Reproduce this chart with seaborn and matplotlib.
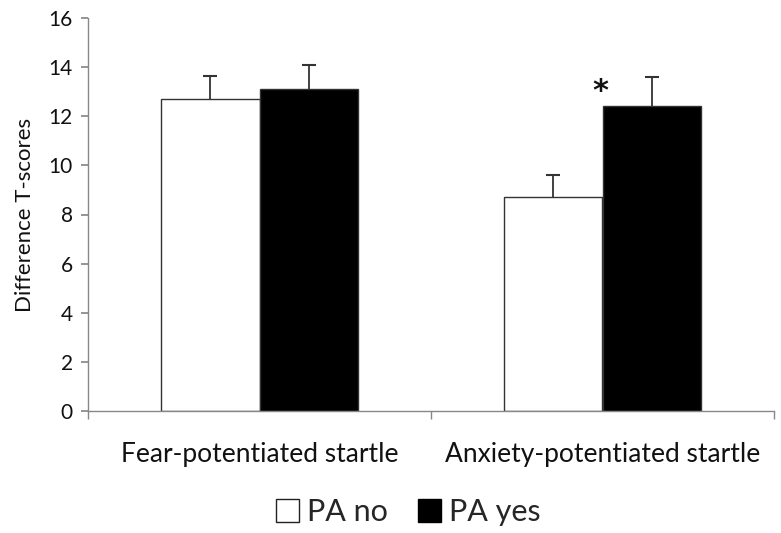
import matplotlib
matplotlib.use("Agg")
import matplotlib.pyplot as plt
import seaborn as sns
import pandas as pd
import numpy as np
from matplotlib.patches import Patch

categories = ["Fear-potentiated startle", "Anxiety-potentiated startle"]
groups = ["PA no", "PA yes"]
pa_no = [12.7, 8.7]
pa_yes = [13.1, 12.4]
err_no = [0.92, 0.9]
err_yes = [1.0, 1.2]

df = pd.DataFrame({
    "cat": categories * 2,
    "group": [groups[0]] * 2 + [groups[1]] * 2,
    "value": pa_no + pa_yes,
})

sns.set_theme(style="white")
plt.rcParams['font.family'] = ['Lato', 'DejaVu Sans']

fig = plt.figure(figsize=(7.81, 5.33), dpi=100)
ax = fig.add_axes([88/781, 1-411/533, (774-88)/781, (411-18)/533])

sns.barplot(data=df, x="cat", y="value", hue="group", order=categories,
            hue_order=groups, palette=["white", "black"], width=0.572,
            edgecolor="#333333", linewidth=1.0, errorbar=None, legend=False,
            gap=0, ax=ax, zorder=2)

# error bars (upper only)
errs = {groups[0]: err_no, groups[1]: err_yes}
vals = {groups[0]: pa_no, groups[1]: pa_yes}
containers = ax.containers
for gi, g in enumerate(groups):
    cont = containers[gi]
    for ci, bar in enumerate(cont):
        xc = bar.get_x() + bar.get_width() / 2
        eb = ax.errorbar(xc, vals[g][ci], yerr=[[0], [errs[g][ci]]], fmt="none",
                         ecolor="#333333", elinewidth=1.3, capsize=5, capthick=1.5,
                         zorder=1)
        caps = eb[1]
        if len(caps) > 1:
            caps[0].set_visible(False)

# significance marker
bar_yes2 = containers[1][1]
ax.text(bar_yes2.get_x() - 0.005, pa_yes[1] + 0.6, "*", ha="center",
        va="center", fontsize=22, fontweight="bold", color="#111111",
        family="DejaVu Sans")

ax.set_ylim(0, 16)
ax.set_xlim(-0.5, 1.5)
ax.set_yticks(np.arange(0, 17, 2))
ax.set_xlabel("")
ax.set_ylabel("Difference T-scores", fontsize=16, color="#111111", labelpad=10)
ax.tick_params(axis="y", labelsize=15, length=5, direction="out", color="#888888",
               left=True, labelcolor="#111111", pad=6)
ax.set_xticks([0, 1])
ax.set_xticklabels(categories, fontsize=19, color="#111111")
ax.tick_params(axis="x", which="major", length=0, pad=22)
ax.set_xticks([-0.5, 0.5, 1.5], minor=True)
ax.tick_params(axis="x", which="minor", length=6, direction="out", color="#888888",
               bottom=True)
for s in ["top", "right"]:
    ax.spines[s].set_visible(False)
for s in ["left", "bottom"]:
    ax.spines[s].set_color("#888888")
    ax.spines[s].set_linewidth(1.0)

handles = [Patch(facecolor="white", edgecolor="#222222", linewidth=1.0),
           Patch(facecolor="black", edgecolor="black")]
fig.legend(handles, groups, loc="center", bbox_to_anchor=(0.523, 1-512/533),
           ncol=2, frameon=False, fontsize=22, handlelength=0.75, handleheight=0.75,
           handletextpad=0.25, columnspacing=1.0)

fig.savefig("out.png", dpi=100)
